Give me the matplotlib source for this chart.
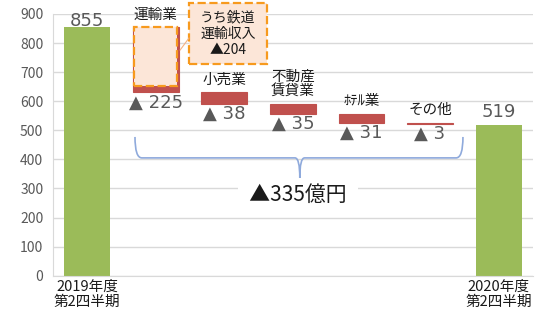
import numpy as np
import matplotlib
matplotlib.use('Agg')
import matplotlib.pyplot as plt
from matplotlib.patches import Rectangle, PathPatch
from matplotlib.path import Path

plt.rcParams['font.family'] = ['Noto Sans CJK JP', 'DejaVu Sans']

# data (億円)
period_labels = ['2019年度\n第2四半期', '2020年度\n第2四半期']
start_value = 855
end_value = 519
segment_names = ['運輸業', '小売業', '不動産\n賃貸業', 'ﾎﾃﾙ業', 'その他']
segment_drops = [225, 38, 35, 31, 3]
rail_drop = 204
total_drop = 335

GREEN = '#9BBB59'
RED = '#C0504D'
ORANGE = '#F79A1E'
PEACH = '#FCE6D8'
GRID = '#D9D9D9'
TXT = '#595959'
BRACE = '#8FAADC'
w = 0.67

drops = np.array(segment_drops)
tops = start_value - np.concatenate([[0], np.cumsum(drops)[:-1]])
bottoms = tops - drops
seg_x = np.arange(1, len(drops) + 1)
end_x = len(drops) + 1

fig = plt.figure(figsize=(5.38, 3.15), dpi=100)
ax = fig.add_axes([0.0985, 0.1248, 0.892, 0.831])

ax.bar(0, start_value, width=w, color=GREEN, zorder=2)
ax.bar(end_x, end_value, width=w, color=GREEN, zorder=2)
ax.bar(seg_x, drops, bottom=bottoms, width=w, color=RED, edgecolor=RED, linewidth=0.8, zorder=2)

# 運輸業のうち鉄道運輸収入
ax.bar(1, rail_drop, bottom=start_value - rail_drop, width=w - 0.04,
       color=PEACH, edgecolor=ORANGE, linestyle='--', linewidth=1.6, zorder=3)

# value labels
ax.annotate(f'{start_value}', (0, start_value), xytext=(0, -2), textcoords='offset points',
            ha='center', va='bottom', fontsize=13, color=TXT, family='DejaVu Sans')
ax.annotate(f'{end_value}', (end_x, end_value), xytext=(0, 3), textcoords='offset points',
            ha='center', va='bottom', fontsize=13, color=TXT, family='DejaVu Sans')
for x, t, b, name, d in zip(seg_x, tops, bottoms, segment_names, drops):
    ax.annotate(name, (x, t), xytext=(0, 4), textcoords='offset points',
                ha='center', va='bottom', fontsize=10.5, color='#1a1a1a', linespacing=1.05)
    ax.annotate(f'▲ {d}', (x, b), xytext=(0, -1), textcoords='offset points',
                ha='center', va='top', fontsize=13, color=TXT, family='DejaVu Sans')

# callout box
ax.add_patch(Rectangle((1.483, 728), 1.14, 210, facecolor=PEACH, edgecolor=ORANGE,
                       linestyle='--', linewidth=1.6, clip_on=False, zorder=3))
ax.text(2.05, 833, 'うち鉄道\n運輸収入\n▲204', ha='center', va='center', fontsize=10,
        color='#1a1a1a', linespacing=1.2, zorder=4)
ax.plot([1 + w / 2 + 0.02, 1.483], [776, 817], color='#F4B183', lw=0.8, clip_on=False, zorder=3)

# brace over the decreases
x0, x1, xc = 0.696, 5.48, 3.10
y_top, y_mid, y_tip = 477, 405, 336
rx, tx = 0.1, 0.07
verts = [(x0, y_top), (x0, y_mid), (x0 + rx, y_mid),
         (xc - tx, y_mid), (xc, y_mid), (xc, y_tip),
         (xc, y_mid), (xc + tx, y_mid),
         (x1 - rx, y_mid), (x1, y_mid), (x1, y_top)]
codes = [Path.MOVETO, Path.CURVE3, Path.CURVE3,
         Path.LINETO, Path.CURVE3, Path.CURVE3,
         Path.CURVE3, Path.CURVE3,
         Path.LINETO, Path.CURVE3, Path.CURVE3]
ax.add_patch(PathPatch(Path(verts, codes), facecolor='none', edgecolor=BRACE, lw=1.2, zorder=5))

ax.text(3.07, 277, f'  ▲{total_drop}億円  ', ha='center', va='center', fontsize=15,
        color='#1a1a1a', zorder=4,
        bbox=dict(boxstyle='square,pad=0.1', facecolor='white', edgecolor='none'))

ax.set_xlim(-0.5, 6.5)
ax.set_ylim(0, 900)
ax.set_yticks(range(0, 901, 100))
ax.set_xticks([0, end_x])
ax.set_xticklabels(period_labels, fontsize=10.5, color='#1a1a1a', linespacing=1.05)
ax.tick_params(axis='y', length=0, pad=7, labelsize=10, labelcolor=TXT)
ax.tick_params(axis='x', length=0, pad=3)
ax.grid(axis='y', color=GRID, lw=1)
ax.set_axisbelow(True)
for s in ['top', 'right']:
    ax.spines[s].set_visible(False)
for s in ['left', 'bottom']:
    ax.spines[s].set_color(GRID)

fig.savefig('out.png', dpi=100)
